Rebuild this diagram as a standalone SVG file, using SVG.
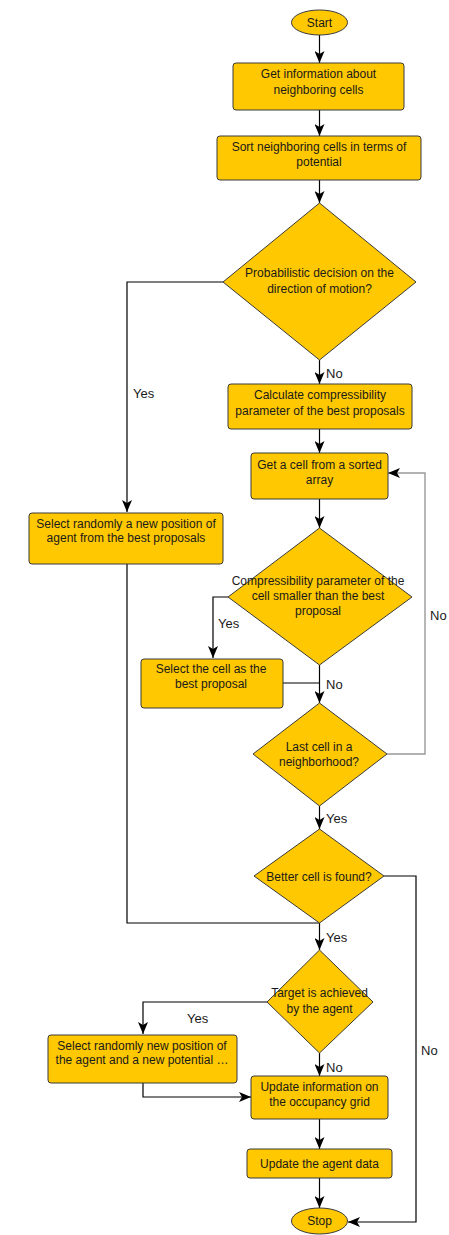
<svg xmlns="http://www.w3.org/2000/svg" width="449" height="1235" viewBox="0 0 449 1235">
  <defs>
    <marker id="arrow" markerUnits="userSpaceOnUse" viewBox="0 0 12 10" markerWidth="12" markerHeight="10" refX="12" refY="5" orient="auto">
      <path d="M0,0 L12,5 L0,10 L3,5 z" fill="#000"/>
    </marker>
    <style>
      .shape { fill: #FFC800; stroke: #3a3a3a; stroke-width: 1; }
      .label { font-family: "Liberation Sans", Arial, sans-serif; font-size: 12px; fill: #1a1a1a; text-anchor: middle; }
      .edge-label { font-family: "Liberation Sans", Arial, sans-serif; font-size: 13px; fill: #1a1a1a; }
      .edge { fill: none; stroke: #000; stroke-width: 1.2; }
      .edge-grey { fill: none; stroke: #999; stroke-width: 1.4; }
    </style>
  </defs>
  <rect width="449" height="1235" fill="#fff"/>

  <!-- connectors -->
  <g id="connectors">
    <path class="edge" d="M319.5,35 V63" marker-end="url(#arrow)"/>
    <path class="edge" d="M319.5,110 V136" marker-end="url(#arrow)"/>
    <path class="edge" d="M319.5,180 V203" marker-end="url(#arrow)"/>
    <path class="edge" d="M223,282 H127 V512" marker-end="url(#arrow)"/>
    <path class="edge" d="M319.5,360 V384" marker-end="url(#arrow)"/>
    <path class="edge" d="M319.5,429 V453" marker-end="url(#arrow)"/>
    <path class="edge" d="M319.5,499 V528" marker-end="url(#arrow)"/>
    <path class="edge" d="M228,597 H213 V658" marker-end="url(#arrow)"/>
    <path class="edge" d="M283,683 H319.5"/>
    <path class="edge" d="M319.5,665 V703" marker-end="url(#arrow)"/>
    <path class="edge-grey" d="M387,754 H425 V473 H388" marker-end="url(#arrow)"/>
    <path class="edge" d="M319.5,806 V829" marker-end="url(#arrow)"/>
    <path class="edge" d="M384,876 H416 V1222 H348" marker-end="url(#arrow)"/>
    <path class="edge" d="M127,564 V923 H319.5"/>
    <path class="edge" d="M319.5,923 V950" marker-end="url(#arrow)"/>
    <path class="edge" d="M267,1002 H143 V1034" marker-end="url(#arrow)"/>
    <path class="edge" d="M319.5,1053 V1076" marker-end="url(#arrow)"/>
    <path class="edge" d="M143,1083 V1097 H251" marker-end="url(#arrow)"/>
    <path class="edge" d="M319.5,1119 V1149" marker-end="url(#arrow)"/>
    <path class="edge" d="M319.5,1178 V1208" marker-end="url(#arrow)"/>

    <text class="edge-label" x="326" y="378">No</text>
    <text class="edge-label" x="133" y="398">Yes</text>
    <text class="edge-label" x="218" y="628">Yes</text>
    <text class="edge-label" x="326" y="689">No</text>
    <text class="edge-label" x="430" y="620">No</text>
    <text class="edge-label" x="326" y="823">Yes</text>
    <text class="edge-label" x="326" y="942">Yes</text>
    <text class="edge-label" x="187" y="1023">Yes</text>
    <text class="edge-label" x="326" y="1072">No</text>
    <text class="edge-label" x="421" y="1055">No</text>
  </g>

  <g id="start">
    <ellipse class="shape" cx="319.5" cy="22.5" rx="28" ry="12.5"/>
    <text class="label" x="319.5" y="26.5">Start</text>
  </g>

  <g id="get-info">
    <rect class="shape" x="233" y="63" width="171" height="47" rx="3"/>
    <text class="label" x="318.5" y="78">Get information about</text>
    <text class="label" x="318.5" y="94">neighboring cells</text>
  </g>

  <g id="sort-cells">
    <rect class="shape" x="217" y="136" width="204" height="44" rx="3"/>
    <text class="label" x="319" y="151">Sort neighboring cells in terms of</text>
    <text class="label" x="319" y="166">potential</text>
  </g>

  <g id="decision-direction">
    <polygon class="shape" points="319.5,203 416,282 319.5,360 223,282"/>
    <text class="label" x="319.5" y="277">Probabilistic decision on the</text>
    <text class="label" x="319.5" y="293">direction of motion?</text>
  </g>

  <g id="calc-compressibility">
    <rect class="shape" x="228" y="384" width="184" height="45" rx="3"/>
    <text class="label" x="320" y="399">Calculate compressibility</text>
    <text class="label" x="320" y="415">parameter of the best proposals</text>
  </g>

  <g id="get-cell">
    <rect class="shape" x="251" y="453" width="137" height="46" rx="3"/>
    <text class="label" x="319.5" y="469">Get a cell from a sorted</text>
    <text class="label" x="319.5" y="484">array</text>
  </g>

  <g id="select-random">
    <rect class="shape" x="29" y="513" width="194" height="51" rx="3"/>
    <text class="label" x="126" y="528">Select randomly a new position of</text>
    <text class="label" x="126" y="542">agent from the best proposals</text>
  </g>

  <g id="decision-compressibility">
    <polygon class="shape" points="319.5,528 412,597 319.5,665 228,597"/>
    <text class="label" x="318" y="585">Compressibility parameter of the</text>
    <text class="label" x="318" y="600">cell smaller than the best</text>
    <text class="label" x="318" y="615">proposal</text>
  </g>

  <g id="select-cell">
    <rect class="shape" x="141" y="659" width="142" height="49" rx="3"/>
    <text class="label" x="211" y="673">Select the cell as the</text>
    <text class="label" x="211" y="688">best proposal</text>
  </g>

  <g id="decision-last-cell">
    <polygon class="shape" points="319.5,703 387,754 319.5,806 253,754"/>
    <text class="label" x="319" y="751">Last cell in a</text>
    <text class="label" x="319" y="766">neighborhood?</text>
  </g>

  <g id="decision-better-cell">
    <polygon class="shape" points="319.5,829 384,876 319.5,923 254,876"/>
    <text class="label" x="319" y="881">Better cell is found?</text>
  </g>

  <g id="decision-target">
    <polygon class="shape" points="319.5,950 373,1002 319.5,1053 267,1002"/>
    <text class="label" x="319.5" y="997">Target is achieved</text>
    <text class="label" x="319.5" y="1013">by the agent</text>
  </g>

  <g id="select-new-position">
    <rect class="shape" x="48" y="1035" width="189" height="48" rx="3"/>
    <text class="label" x="142" y="1050">Select randomly new position of</text>
    <text class="label" x="142" y="1064">the agent and a new potential …</text>
  </g>

  <g id="update-grid">
    <rect class="shape" x="251" y="1076" width="137" height="43" rx="3"/>
    <text class="label" x="319.5" y="1091">Update information on</text>
    <text class="label" x="319.5" y="1106">the occupancy grid</text>
  </g>

  <g id="update-agent">
    <rect class="shape" x="247" y="1149" width="145" height="29" rx="3"/>
    <text class="label" x="319.5" y="1168">Update the agent data</text>
  </g>

  <g id="stop">
    <ellipse class="shape" cx="319.5" cy="1221" rx="28" ry="13"/>
    <text class="label" x="319.5" y="1225">Stop</text>
  </g>
</svg>
